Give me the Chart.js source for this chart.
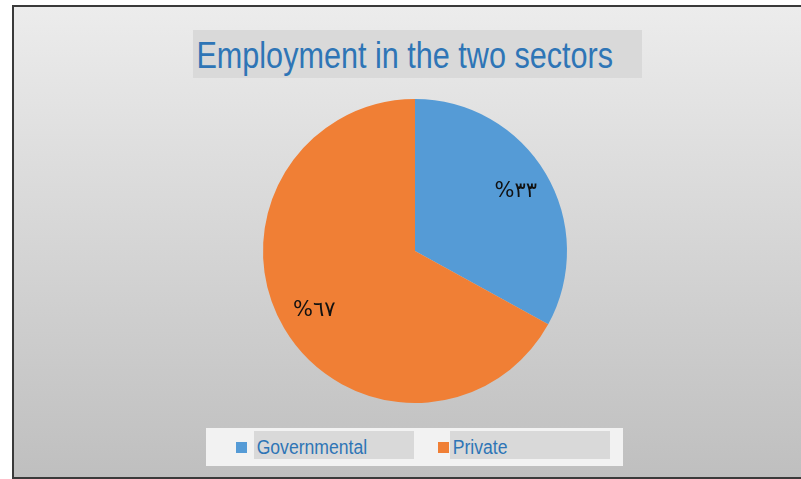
<!DOCTYPE html>
<html lang="en">
<head>
<meta charset="UTF-8">
<meta name="viewport" content="width=device-width, initial-scale=1.0">
<title>Employment in the two sectors</title>
<script src="https://cdn.jsdelivr.net/npm/chart.js@4.4.1/dist/chart.umd.min.js"></script>
<style>
    body {
        margin: 0;
        background: #fff;
        font-family: "Liberation Sans", Arial, sans-serif;
    }

    #frame {
        position: absolute;
        left: 12px;
        top: 5px;
        width: 800px;
        height: 470px;
        border: 2px solid #3a3a3a;
        border-right: none;
        background: linear-gradient(#ececec, #bfbfbf);
    }

    #title {
        position: absolute;
        left: 193px;
        top: 30px;
        width: 449px;
        height: 48px;
        background: #d9d9d9;
        white-space: nowrap;
    }

    #title span {
        display: inline-block;
        padding-left: 4px;
        font-size: 36px;
        line-height: 51px;
        color: #2e75b6;
        transform: scaleX(0.85);
        transform-origin: 0 0;
    }

    #legend {
        position: absolute;
        left: 206px;
        top: 428px;
        width: 417px;
        height: 38px;
        background: #f2f2f2;
        margin: 0;
        padding: 0;
        list-style: none;
    }

    #legend li {
        position: absolute;
        top: 3px;
        height: 28px;
    }

    #legend li:nth-child(1) { left: 30px; }
    #legend li:nth-child(2) { left: 232px; }

    #legend .swatch {
        position: absolute;
        left: 0;
        top: 11px;
        width: 11px;
        height: 11px;
    }

    #legend .name {
        position: absolute;
        top: 0;
        width: 160px;
        height: 28px;
        background: #d9d9d9;
        white-space: nowrap;
        overflow: hidden;
    }

    #legend li:nth-child(1) .name { left: 18px; }
    #legend li:nth-child(2) .name { left: 12px; }

    #legend .name span {
        display: inline-block;
        padding-left: 3px;
        font-size: 20px;
        line-height: 32px;
        color: #2e75b6;
        transform: scaleX(0.88);
        transform-origin: 0 0;
    }

    #chartBox {
        position: absolute;
        left: 0;
        top: 0;
        width: 801px;
        height: 479px;
    }
</style>
</head>

<body>
    <div id="frame"></div>
    <div id="title"><span>Employment in the two sectors</span></div>
    <ul id="legend"></ul>
    <div id="chartBox"><canvas id="myChart"></canvas></div>

    <script>
        const sectors = ['Governmental', 'Private'];
        const shares = [33, 67];
        const sectorColors = ['#559bd6', '#f07f35'];

        // percentages are written with Arabic-Indic digits
        const arabicDigits = '٠١٢٣٤٥٦٧٨٩';
        function toArabic(n) {
            return String(n).replace(/[0-9]/g, d => arabicDigits[d]);
        }

        // puts "%NN" inside each slice, along the middle of the slice
        const sliceLabels = {
            id: 'sliceLabels',
            afterDatasetsDraw(chart) {
                const ctx = chart.ctx;
                const meta = chart.getDatasetMeta(0);
                ctx.save();
                ctx.font = '21px "DejaVu Sans", sans-serif';
                ctx.fillStyle = '#111';
                ctx.textAlign = 'center';
                ctx.textBaseline = 'middle';
                meta.data.forEach((arc, i) => {
                    const p = arc.getProps(['x', 'y', 'startAngle', 'endAngle', 'outerRadius'], true);
                    const mid = (p.startAngle + p.endAngle) / 2;
                    const r = p.outerRadius * 0.77;
                    const value = chart.data.datasets[0].data[i];
                    ctx.fillText('%' + toArabic(value), p.x + Math.cos(mid) * r, p.y + Math.sin(mid) * r);
                });
                ctx.restore();
            }
        };

        // legend list built in the page from the chart's own legend items
        const htmlLegend = {
            id: 'htmlLegend',
            afterUpdate(chart) {
                const list = document.getElementById('legend');
                list.innerHTML = '';
                const items = chart.options.plugins.legend.labels.generateLabels(chart);
                items.forEach(item => {
                    const li = document.createElement('li');
                    const swatch = document.createElement('span');
                    swatch.className = 'swatch';
                    swatch.style.background = item.fillStyle;
                    const name = document.createElement('div');
                    name.className = 'name';
                    const text = document.createElement('span');
                    text.textContent = item.text;
                    name.appendChild(text);
                    li.appendChild(swatch);
                    li.appendChild(name);
                    list.appendChild(li);
                });
            }
        };

        const ctx = document.getElementById('myChart').getContext('2d');
        const myChart = new Chart(ctx, {
            type: 'pie',
            data: {
                labels: sectors,
                datasets: [{
                    data: shares,
                    backgroundColor: sectorColors,
                    borderWidth: 0
                }]
            },
            options: {
                responsive: true,
                maintainAspectRatio: false,
                animation: false,
                layout: {
                    padding: { left: 263, top: 99, right: 234, bottom: 76 }
                },
                plugins: {
                    legend: { display: false },
                    title: { display: false },
                    tooltip: { enabled: false }
                }
            },
            plugins: [sliceLabels, htmlLegend]
        });
    </script>
</body>
</html>
